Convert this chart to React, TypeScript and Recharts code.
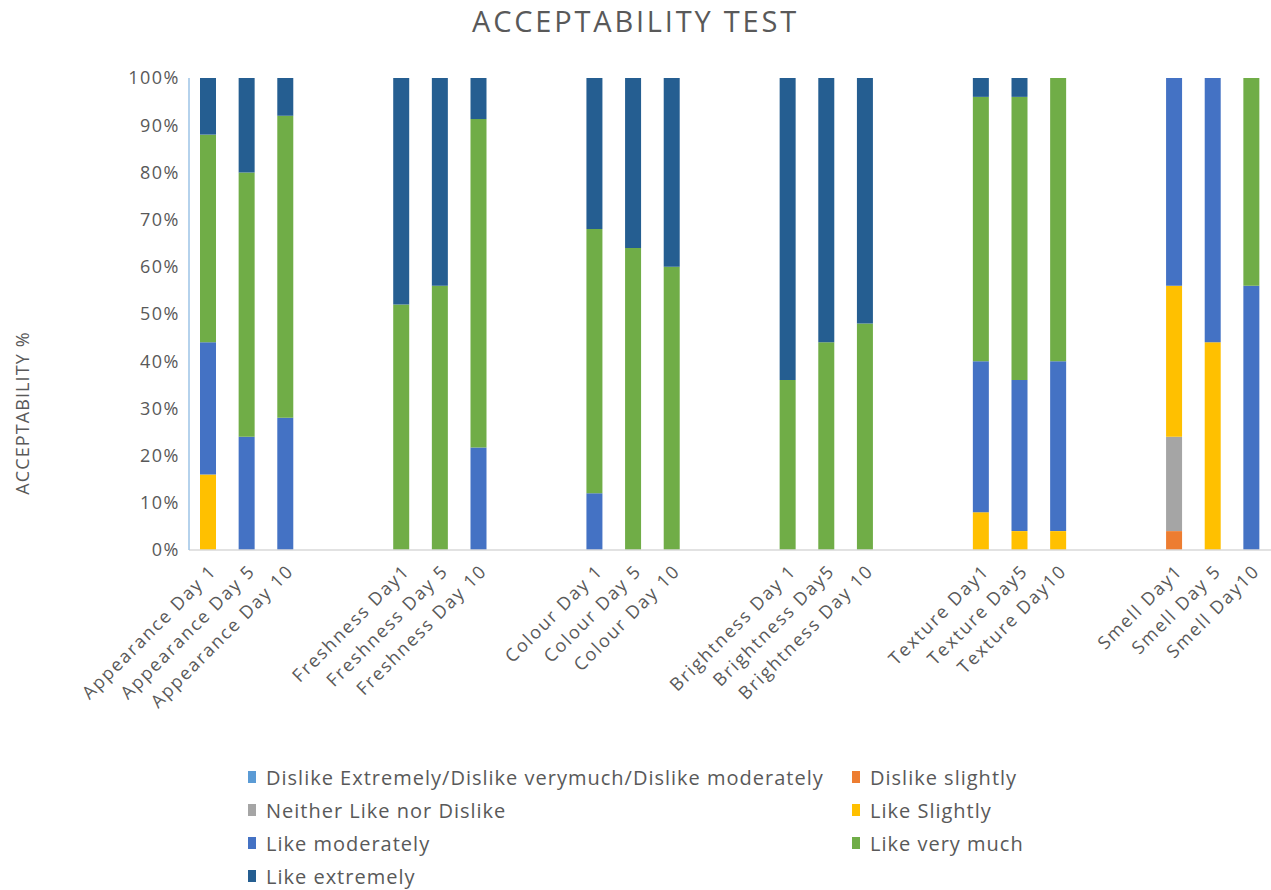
import React from 'react'
import { BarChart, Bar, XAxis, YAxis, Legend } from 'recharts'

const categories = [
  'Appearance Day 1', 'Appearance Day 5', 'Appearance Day 10',
  'Freshness Day1', 'Freshness Day 5', 'Freshness Day 10',
  'Colour Day 1', 'Colour Day 5', 'Colour Day 10',
  'Brightness Day 1', 'Brightness Day5', 'Brightness Day 10',
  'Texture Day1', 'Texture Day5', 'Texture Day10',
  'Smell Day1', 'Smell Day 5', 'Smell Day10',
]

// percent of panelists per hedonic score
const dislikeStrong = [0, 0, 0, 0, 0, 0, 0, 0, 0, 0, 0, 0, 0, 0, 0, 0, 0, 0]
const dislikeSlightly = [0, 0, 0, 0, 0, 0, 0, 0, 0, 0, 0, 0, 0, 0, 0, 4, 0, 0]
const neither = [0, 0, 0, 0, 0, 0, 0, 0, 0, 0, 0, 0, 0, 0, 0, 20, 0, 0]
const likeSlightly = [16, 0, 0, 0, 0, 0, 0, 0, 0, 0, 0, 0, 8, 4, 4, 32, 44, 0]
const likeModerately = [28, 24, 28, 0, 0, 21.7, 12, 0, 0, 0, 0, 0, 32, 32, 36, 44, 56, 56]
const likeVeryMuch = [44, 56, 64, 52, 56, 69.6, 56, 64, 60, 36, 44, 48, 56, 60, 60, 0, 0, 44]
const likeExtremely = [12, 20, 8, 48, 44, 8.7, 32, 36, 40, 64, 56, 52, 4, 4, 0, 0, 0, 0]

const yTicks = [0, 10, 20, 30, 40, 50, 60, 70, 80, 90, 100]

const series = [
  { key: 'dislikeStrong', name: 'Dislike Extremely/Dislike verymuch/Dislike moderately', color: '#5B9BD5', values: dislikeStrong },
  { key: 'dislikeSlightly', name: 'Dislike slightly', color: '#ED7D31', values: dislikeSlightly },
  { key: 'neither', name: 'Neither Like nor Dislike', color: '#A5A5A5', values: neither },
  { key: 'likeSlightly', name: 'Like Slightly', color: '#FFC000', values: likeSlightly },
  { key: 'likeModerately', name: 'Like moderately', color: '#4472C4', values: likeModerately },
  { key: 'likeVeryMuch', name: 'Like very much', color: '#70AD47', values: likeVeryMuch },
  { key: 'likeExtremely', name: 'Like extremely', color: '#255E91', values: likeExtremely },
]

// three days per attribute, then two empty slots between attributes
const rows: any[] = []
categories.forEach((cat, i) => {
  if (i > 0 && i % 3 === 0) {
    rows.push({ label: '' })
    rows.push({ label: '' })
  }
  const row: any = { label: cat }
  series.forEach(s => { row[s.key] = s.values[i] })
  rows.push(row)
})

const TEXT = '#595959'
const FONT = '"Open Sans", sans-serif'

const XTick = ({ x, y, payload }: any) => {
  if (!payload.value) return null
  return (
    <g transform={`translate(${x + 5},${y + 10})`}>
      <text
        x={0}
        y={0}
        dy={6}
        textAnchor="end"
        transform="rotate(-45)"
        fill={TEXT}
        fontSize={18}
        fontFamily={FONT}
        letterSpacing={1.8}
      >
        {payload.value}
      </text>
    </g>
  )
}

const renderLegend = () => (
  <div style={{ display: 'grid', gridTemplateColumns: '604px 220px', rowGap: 11, fontFamily: FONT, fontSize: 20, color: TEXT }}>
    {series.map(s => (
      <div key={s.key} style={{ display: 'flex', alignItems: 'center', height: 22 }}>
        <span style={{ display: 'inline-block', width: 8, height: 12, background: s.color, marginRight: 10 }} />
        <span style={{ letterSpacing: 1, whiteSpace: 'nowrap' }}>{s.name}</span>
      </div>
    ))}
  </div>
)

export default function App() {
  return (
    <div style={{ position: 'absolute', left: 0, top: 0, width: 1271, height: 890, background: '#fff' }}>
      <div style={{ position: 'absolute', top: 1, left: 0, width: 1271, textAlign: 'center', fontFamily: FONT, fontSize: 29, letterSpacing: 2.8, color: TEXT }}>
        ACCEPTABILITY TEST
      </div>
      <BarChart width={1271} height={890} data={rows} margin={{ top: 78, right: 0, bottom: 19, left: 0 }} barSize={16}>
        <XAxis
          dataKey="label"
          interval={0}
          tick={<XTick />}
          tickLine={false}
          axisLine={{ stroke: '#D9D9D9', strokeWidth: 1.5 }}
          height={200}
        />
        <YAxis
          domain={[0, 100]}
          ticks={yTicks}
          tickFormatter={(v: number) => `${v}%`}
          width={189}
          tickLine={false}
          tickMargin={3}
          axisLine={{ stroke: '#9DC3E6', strokeWidth: 1.5 }}
          tick={{ fill: TEXT, fontSize: 18, fontFamily: FONT, letterSpacing: 1.5 }}
          label={() => (
            <text x={29} y={413} transform="rotate(-90, 29, 413)" textAnchor="middle" fill={TEXT} fontSize={18} fontFamily={FONT} letterSpacing={1.1}>
              ACCEPTABILITY %
            </text>
          )}
        />
        <Legend
          content={renderLegend}
          wrapperStyle={{ position: 'absolute', top: 766, left: 248, width: 900 }}
        />
        {series.map(s => (
          <Bar key={s.key} dataKey={s.key} name={s.name} stackId="a" fill={s.color} isAnimationActive={false} />
        ))}
      </BarChart>
    </div>
  )
}
